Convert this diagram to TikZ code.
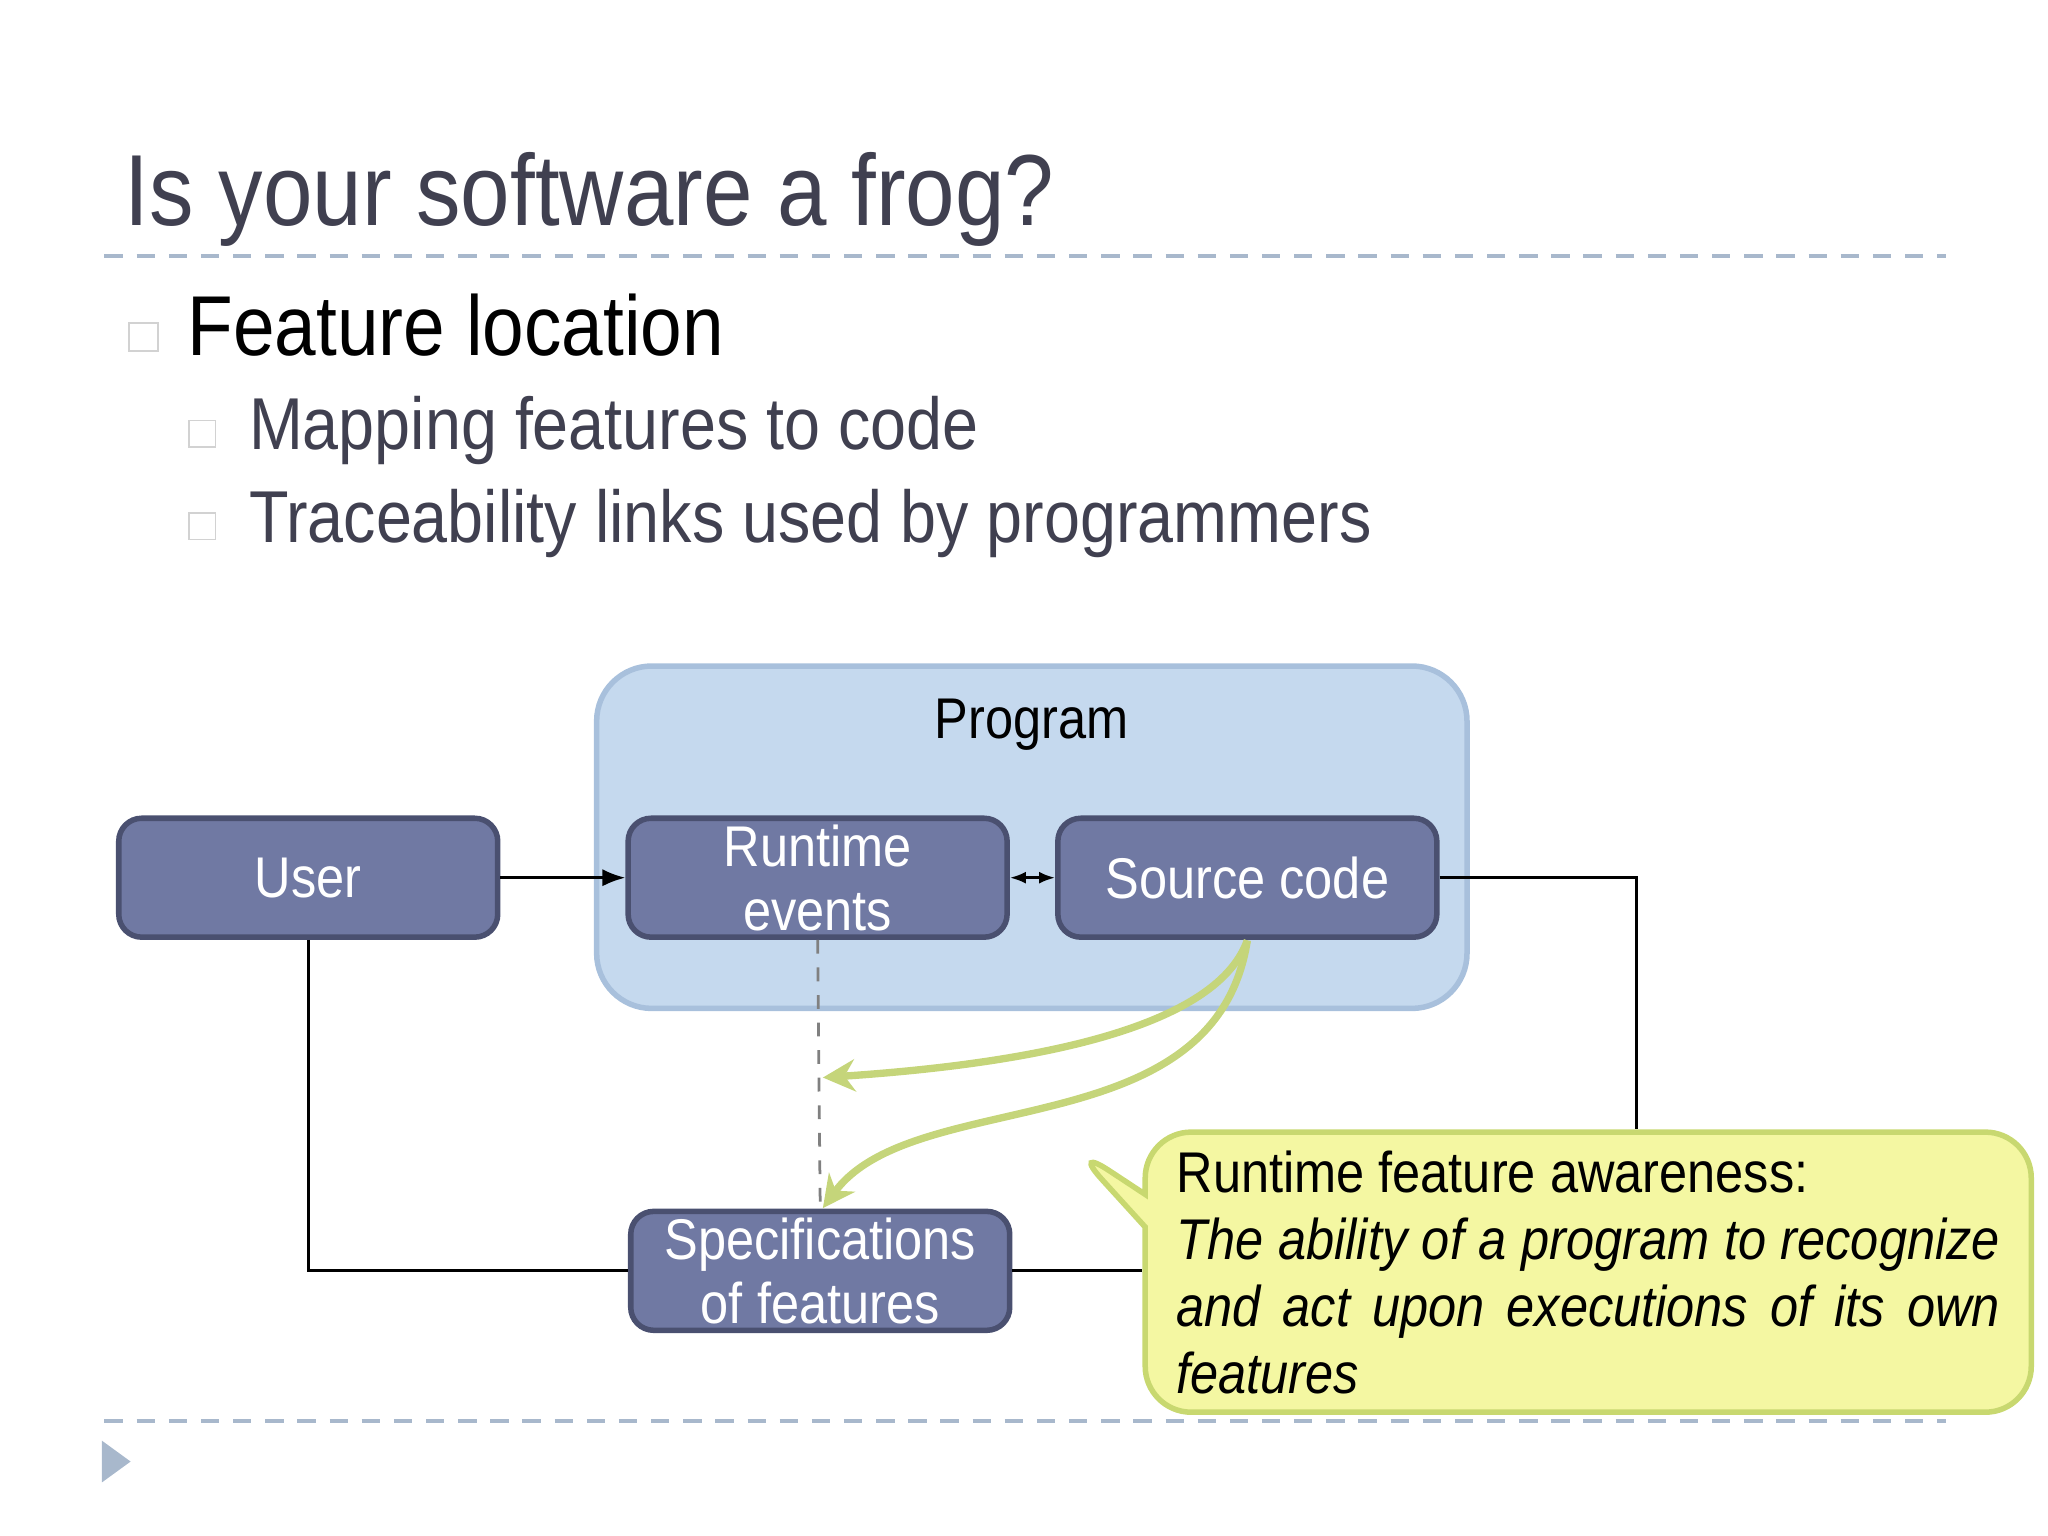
\documentclass[tikz,border=0pt]{standalone}
\usepackage{fontspec}
\setmainfont{Liberation Sans}[FakeStretch=0.88]
\usetikzlibrary{arrows.meta,shapes.callouts}
\definecolor{txt}{HTML}{404050}
\definecolor{rule}{HTML}{A8B8CC}
\definecolor{boxfill}{HTML}{7079A3}
\definecolor{boxdraw}{HTML}{4A5070}
\definecolor{progfill}{HTML}{C5D9EE}
\definecolor{progdraw}{HTML}{A8C0DC}
\definecolor{notefill}{HTML}{F4F7A2}
\definecolor{notedraw}{HTML}{C8D870}
\definecolor{link}{HTML}{C5D57A}
\begin{document}
\begin{tikzpicture}[x=0.01cm,y=-0.01cm,
  box/.style={draw=boxdraw,line width=1.2pt,fill=boxfill,rounded corners=5pt,
    minimum width=2.9cm,minimum height=0.91cm,text=white,font=\fontsize{12.5}{14}\selectfont,
    align=center,inner sep=1pt},
  wire/.style={line width=0.6pt},
  bul/.style={draw=gray!35,minimum size=0.2cm,inner sep=0pt},
  green/.style={draw=link,line width=1.6pt,-{Stealth[length=7pt,width=7pt]}}]
\useasboundingbox (0,0) rectangle (1568,1176);
% title and rules
\node[anchor=base west,text=txt,font=\fontsize{22}{26}\selectfont,inner sep=0] (title) at (95,173) {Is your software a frog?};
\draw[rule,line width=0.8pt,dash pattern=on 4pt off 3pt] (80,196) -- (1490,196);
\draw[rule,line width=0.8pt,dash pattern=on 4pt off 3pt] (80,1088) -- (1490,1088);
\fill[rule] (78,1103) -- (100,1119) -- (78,1135) -- cycle;
% bullets
\node[bul,minimum size=0.22cm] (b1) at (110,258) {};
\node[anchor=base west,font=\fontsize{18.5}{22}\selectfont,inner sep=0] (t1) at (143,272) {Feature location};
\node[bul] (b2) at (155,332) {};
\node[anchor=base west,text=txt,font=\fontsize{16}{20}\selectfont,inner sep=0] (t2) at (190,344) {Mapping features to code};
\node[bul] (b3) at (155,403) {};
\node[anchor=base west,text=txt,font=\fontsize{16}{20}\selectfont,inner sep=0] (t3) at (190,415) {Traceability links used by programmers};
% program
\node[draw=progdraw,line width=1.2pt,fill=progfill,rounded corners=12pt,minimum width=6.66cm,minimum height=2.62cm] (prog) at (790,641) {};
\node[font=\fontsize{12.5}{15}\selectfont] (plabel) at (790,555) {Program};
\node[box] (user) at (236,672) {User};
\node[box] (run) at (626,672) {Runtime\\events};
\node[box] (src) at (955,672) {Source code};
\node[box] (spec) at (628,973) {Specifications\\of features};
% callout
\node[rectangle callout,draw=notedraw,line width=1.2pt,fill=notefill,rounded corners=10pt,
  minimum width=6.78cm,minimum height=1.96cm,callout absolute pointer={(820,877)},
  text width=6.3cm,align=justify,font=\fontsize{12.5}{14.6}\selectfont,inner sep=4pt] (note) at (1216,974)
  {\hyphenpenalty=10000 Runtime feature awareness:\\\textit{The ability of a program to recognize and act upon executions of its own features}};
% connectors
\draw[wire,-{Latex[length=5pt]}] (user) -- (run);
\draw[wire,{Latex[length=3.5pt]}-{Latex[length=3.5pt]}] (run) -- (src);
\draw[wire,dashed,gray] (run.south) -- (spec.north);
\draw[wire] (src.east) -| (note.north -| 1253,0);
\draw[wire] (user.south) |- (spec.west);
\draw[wire] (spec.east) -- (note.west |- spec.east);
\coordinate (g0) at (955,720);
\coordinate (g1) at (630,825);
\coordinate (g2) at (630,925);
\draw[green] (g0) .. controls (930,790) and (780,815) .. (g1);
\draw[green] (g0) .. controls (930,880) and (700,830) .. (g2);
\end{tikzpicture}
\end{document}
